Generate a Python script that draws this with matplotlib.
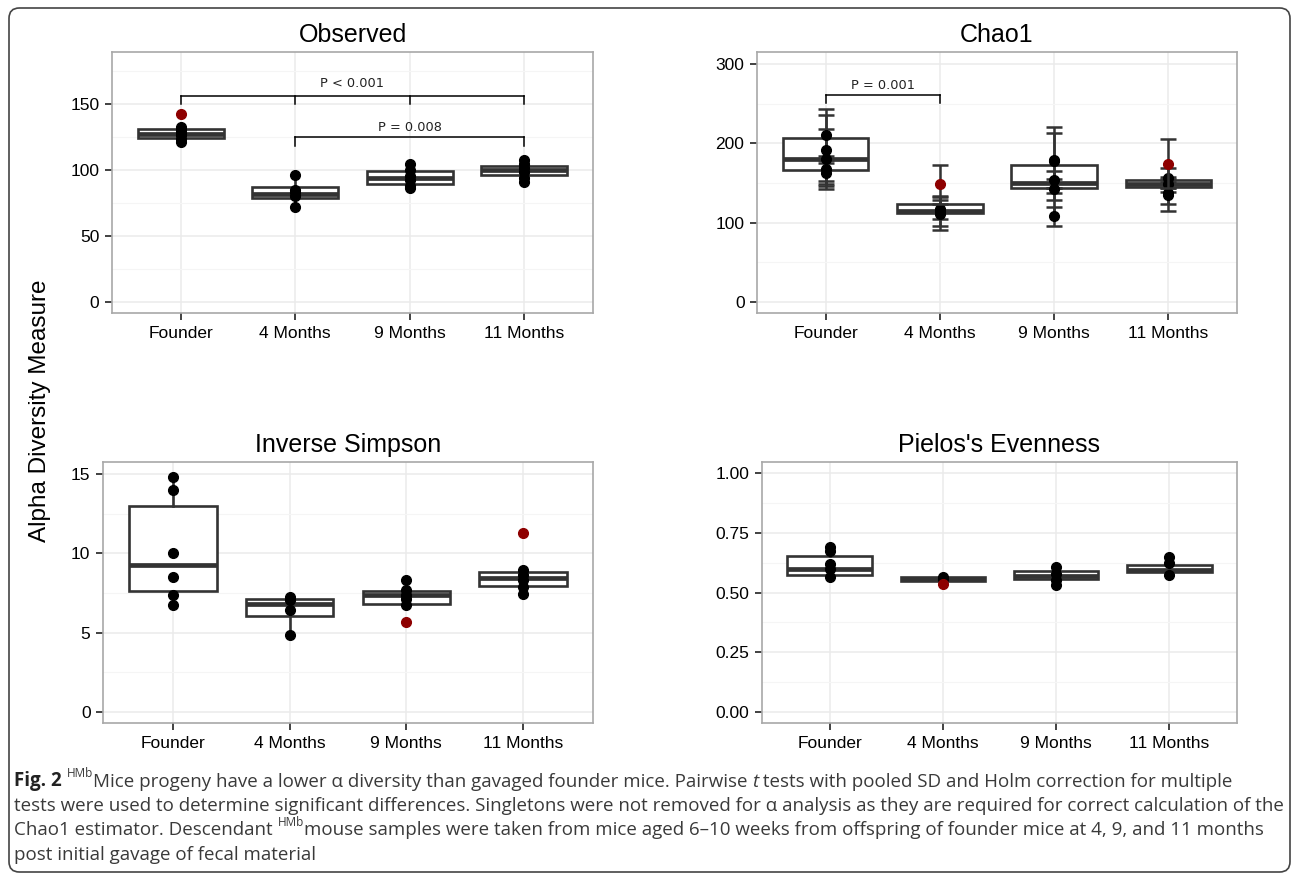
import matplotlib
matplotlib.use("Agg")
import matplotlib.pyplot as plt
import matplotlib.ticker as ticker
from matplotlib.patches import FancyBboxPatch

groups = ["Founder", "4 Months", "9 Months", "11 Months"]

# Observed
obs_q1 = [124, 79, 89, 96]
obs_med = [127, 82, 94, 100]
obs_q3 = [131, 87, 99, 103]
obs_lo = [121, 72, 86, 91]
obs_hi = [132, 96, 104, 107]
obs_points = [[121, 123, 126, 128, 130, 132], [72, 80, 83, 85, 96], [86, 88, 92, 95, 100, 104], [91, 94, 98, 101, 104, 107]]
obs_red = [142, None, None, None]

# Chao1 (points with standard error)
chao_q1 = [166, 112, 143, 145]
chao_med = [180, 115, 150, 149]
chao_q3 = [206, 124, 172, 154]
chao_lo = [162, 111, 108, 135]
chao_hi = [211, 124, 179, 156]
chao_points = [[211, 191, 180, 168, 162], [117, 115, 111], [179, 178, 154, 142, 108], [156, 148, 137, 135]]
chao_se = [[32, 45, 38, 16, 13], [12, 19, 21], [42, 35, 11, 13, 12], [13, 10, 14, 20]]
chao_red = [None, 148, None, 174]
chao_red_se = [None, 24, None, 31]

# Inverse Simpson
inv_q1 = [7.66, 6.06, 6.84, 7.95]
inv_med = [9.26, 6.84, 7.4, 8.42]
inv_q3 = [13.0, 7.15, 7.62, 8.84]
inv_lo = [6.73, 4.88, 6.73, 7.47]
inv_hi = [14.83, 7.26, 8.31, 8.94]
inv_points = [[14.83, 14.0, 10.0, 8.52, 7.4, 6.73], [7.26, 7.05, 6.46, 4.88], [8.31, 7.68, 7.36, 7.15, 6.73], [8.94, 8.63, 8.31, 7.89, 7.47]]
inv_red = [None, None, 5.66, 11.26]

# Pielou's evenness
pie_q1 = [0.575, 0.550, 0.558, 0.586]
pie_med = [0.601, 0.557, 0.569, 0.594]
pie_q3 = [0.653, 0.564, 0.592, 0.615]
pie_lo = [0.564, 0.550, 0.531, 0.573]
pie_hi = [0.690, 0.566, 0.608, 0.650]
pie_points = [[0.69, 0.676, 0.62, 0.60, 0.564], [0.566, 0.556], [0.608, 0.58, 0.552, 0.531], [0.65, 0.622, 0.573]]
pie_red = [None, 0.536, None, None]

W, H = 1295, 880
DARK = "#333333"
RED = "#8E0000"

plt.rcParams["font.family"] = ["Liberation Sans", "DejaVu Sans"]

fig = plt.figure(figsize=(W / 100, H / 100), dpi=100)


def px_axes(left, right, top, bottom):
    return fig.add_axes([left / W, 1 - bottom / H, (right - left) / W, (bottom - top) / H])


def draw_panel(ax, title, q1, med, q3, lo, hi, ylim, yticks, fmt):
    stats = [dict(med=med[i], q1=q1[i], q3=q3[i], whislo=lo[i], whishi=hi[i], fliers=[]) for i in range(len(groups))]
    ax.bxp(stats, positions=range(1, 5), widths=0.75, patch_artist=True, showfliers=False, showcaps=False,
           boxprops=dict(facecolor="white", edgecolor=DARK, linewidth=1.9),
           medianprops=dict(color=DARK, linewidth=3.4, solid_capstyle="butt"),
           whiskerprops=dict(color=DARK, linewidth=1.9), zorder=3)
    ax.set_xlim(0.4, 4.6)
    ax.set_ylim(*ylim)
    ax.set_xticks(range(1, 5))
    ax.set_xticklabels(groups)
    ax.set_yticks(yticks)
    ax.yaxis.set_major_formatter(ticker.FuncFormatter(fmt))
    step = yticks[1] - yticks[0]
    ax.yaxis.set_minor_locator(ticker.MultipleLocator(step / 2))
    ax.grid(True, which="major", color="#EBEBEB", linewidth=1.1)
    ax.grid(True, which="minor", axis="y", color="#F5F5F5", linewidth=0.8)
    ax.set_axisbelow(True)
    ax.tick_params(which="major", length=5, width=1.3, color=DARK, labelsize=12.5, labelcolor="black", pad=4)
    ax.tick_params(which="minor", length=0)
    for s in ax.spines.values():
        s.set_color("#A8A8A8")
        s.set_linewidth(1.2)
    ax.set_title(title, fontsize=18, pad=7)


def draw_points(ax, points, red):
    for i, vals in enumerate(points):
        ax.plot([i + 1] * len(vals), vals, "o", color="black", ms=7, zorder=5)
        if red[i] is not None:
            ax.plot([i + 1], [red[i]], "o", color=RED, ms=7, zorder=6)


def bracket(ax, x0, x1, y, drop, drops_at, label, tx, ty):
    ax.plot([x0, x1], [y, y], color="black", lw=1.1, zorder=4)
    for x in drops_at:
        ax.plot([x, x], [y, drop], color="black", lw=1.1, zorder=4)
    ax.text(tx, ty, label, ha="center", va="center", fontsize=9.3, family="DejaVu Sans", color="#222222")


# Observed
ax1 = px_axes(112, 593, 52, 313)
draw_panel(ax1, "Observed", obs_q1, obs_med, obs_q3, obs_lo, obs_hi, (-8.3, 189), [0, 50, 100, 150],
           lambda v, _: f"{int(v)}")
draw_points(ax1, obs_points, obs_red)
bracket(ax1, 1, 4, 156, 150, [1, 2, 3, 4], "P < 0.001", 2.5, 165)
bracket(ax1, 2, 4, 124.5, 118, [2, 4], "P = 0.008", 3, 132)

# Chao1
ax2 = px_axes(757, 1237, 52, 313)
draw_panel(ax2, "Chao1", chao_q1, chao_med, chao_q3, chao_lo, chao_hi, (-14, 315), [0, 100, 200, 300],
           lambda v, _: f"{int(v)}")
for i, vals in enumerate(chao_points):
    ax2.errorbar([i + 1] * len(vals), vals, yerr=chao_se[i], fmt="o", color="black", ecolor=DARK, ms=7,
                 capsize=6, elinewidth=1.8, capthick=1.8, zorder=5)
    if chao_red[i] is not None:
        ax2.errorbar([i + 1], [chao_red[i]], yerr=[chao_red_se[i]], fmt="o", color=RED, ecolor=DARK, ms=7,
                     capsize=6, elinewidth=1.8, capthick=1.8, zorder=6)
bracket(ax2, 1, 2, 261, 251, [1, 2], "P = 0.001", 1.5, 273)

# Inverse Simpson
ax3 = px_axes(103, 593, 462, 723)
draw_panel(ax3, "Inverse Simpson", inv_q1, inv_med, inv_q3, inv_lo, inv_hi, (-0.7, 15.77), [0, 5, 10, 15],
           lambda v, _: f"{int(v)}")
draw_points(ax3, inv_points, inv_red)

# Pielou
ax4 = px_axes(762, 1237, 462, 723)
draw_panel(ax4, "Pielos's Evenness", pie_q1, pie_med, pie_q3, pie_lo, pie_hi, (-0.046, 1.047),
           [0, 0.25, 0.5, 0.75, 1.0], lambda v, _: f"{v:.2f}")
draw_points(ax4, pie_points, pie_red)

fig.text(40 / W, 1 - 411 / H, "Alpha Diversity Measure", rotation=90, fontsize=17.5, ha="center", va="center")

# caption
bg = fig.add_axes([0, 0, 1, 1], zorder=-1)
bg.axis("off")
bg.add_patch(FancyBboxPatch((9 / W, 8 / H), 1281 / W, 864 / H, boxstyle="round,pad=0,rounding_size=0.008",
                            transform=fig.transFigure, fill=False, edgecolor="#444444", linewidth=1.2,
                            mutation_aspect=W / H))

cap_font = ["Open Sans", "DejaVu Sans"]
cap_lines = [
    (786, [("Fig. 2 ", "bold"), ("HMb", "sup"), ("Mice progeny have a lower α diversity than gavaged founder mice. Pairwise ", ""),
           ("t", "italic"), (" tests with pooled SD and Holm correction for multiple", "")]),
    (811, [("tests were used to determine significant differences. Singletons were not removed for α analysis as they are required for correct calculation of the", "")]),
    (835, [("Chao1 estimator. Descendant ", ""), ("HMb", "sup"),
           ("mouse samples were taken from mice aged 6–10 weeks from offspring of founder mice at 4, 9, and 11 months", "")]),
    (860, [("post initial gavage of fecal material", "")]),
]

for y_px, pieces in cap_lines:
    first = None
    prev = None
    for txt, style in pieces:
        kw = dict(fontsize=13.5, color="#3a3a3a", family=cap_font)
        if style == "bold":
            kw.update(weight="bold", color="#222222")
        elif style == "italic":
            kw.update(style="italic")
        elif style == "sup":
            kw.update(fontsize=8.5)
        if first is None:
            prev = bg.text(14 / W, 1 - y_px / H, txt, transform=fig.transFigure, va="baseline", ha="left", **kw)
            first = prev
        else:
            yy = 0.55 if style == "sup" else 0
            prev = bg.annotate(txt, xy=(1, yy), xycoords=(prev, first), va="bottom", ha="left", **kw)

fig.savefig("out.png", dpi=100)
